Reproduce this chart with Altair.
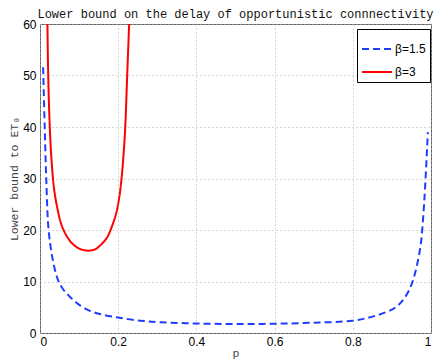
import altair as alt
import pandas as pd

# Values
blue_p = [0.008, 0.012, 0.016, 0.022, 0.033, 0.046, 0.059, 0.077, 0.098, 0.125,
          0.153, 0.2, 0.256, 0.307, 0.4, 0.5, 0.6, 0.7, 0.8, 0.86,
          0.908, 0.934, 0.951, 0.963, 0.974, 0.98, 0.985, 0.992]
blue_v = [51.6, 40, 30, 20, 14.1, 10.3, 8.5, 7.0, 5.6, 4.4,
          3.7, 3.0, 2.4, 2.1, 1.85, 1.75, 1.8, 2.0, 2.4, 3.4,
          4.9, 7.0, 9.6, 12.8, 17.3, 22.5, 28.5, 39]

red_p = [0.019, 0.021, 0.025, 0.03, 0.036, 0.045, 0.055, 0.07, 0.085, 0.1,
         0.115, 0.128, 0.142, 0.158, 0.172, 0.183, 0.195, 0.203, 0.209, 0.214,
         0.218, 0.223, 0.228]
red_v = [60, 50, 40, 33, 28, 24, 21, 18.6, 17.2, 16.4,
         16.05, 16.0, 16.3, 17.3, 18.6, 20.5, 23.3, 26.5, 30.3, 35,
         40, 50, 60]

series_names = ["β=1.5", "β=3"]
x_ticks = [0, 0.2, 0.4, 0.6, 0.8, 1]
y_ticks = [0, 10, 20, 30, 40, 50, 60]

rows = []
for p, v in zip(blue_p, blue_v):
    rows.append({"p": p, "v": v, "beta": series_names[0]})
for p, v in zip(red_p, red_v):
    rows.append({"p": p, "v": v, "beta": series_names[1]})
df = pd.DataFrame(rows)

mono = "Liberation Mono"
sans = "Liberation Sans"

lines = alt.Chart(df).mark_line(strokeWidth=2, clip=True, interpolate="catmull-rom").encode(
    x=alt.X("p:Q", scale=alt.Scale(domain=[0, 1], nice=False),
            axis=alt.Axis(values=x_ticks, title="p", format="~g",
                          grid=True, gridDash=[1, 3], gridColor="#aaaaaa",
                          ticks=False, domain=False, labelPadding=3,
                          labelFont=sans, labelFontSize=12, labelColor="#000",
                          titleFont=mono, titleFontSize=11.5, titleFontWeight="normal",
                          titleColor="#444", titlePadding=0)),
    y=alt.Y("v:Q", scale=alt.Scale(domain=[0, 60], nice=False),
            axis=alt.Axis(values=y_ticks, title="Lower bound to ET₀",
                          grid=True, gridDash=[1, 3], gridColor="#aaaaaa",
                          ticks=False, domain=False, labelPadding=4,
                          labelFont=sans, labelFontSize=12, labelColor="#000",
                          titleFont=mono, titleFontSize=11.5, titleFontWeight="normal",
                          titleColor="#444", titlePadding=3)),
    color=alt.Color("beta:N", scale=alt.Scale(domain=series_names, range=["#1f3dff", "#ff0000"]),
                    legend=alt.Legend(title=None, orient="none", legendX=317, legendY=5,
                                      symbolType="stroke", symbolSize=900, symbolStrokeWidth=2,
                                      labelFont=sans, labelFontSize=12, labelColor="#000",
                                      strokeColor="#000", fillColor="#fff",
                                      padding=4, rowPadding=1, labelOffset=2)),
    strokeDash=alt.StrokeDash("beta:N", scale=alt.Scale(domain=series_names, range=[[7, 4], [1, 0]]),
                              legend=None),
)

chart = lines.properties(
    width=391,
    height=309,
    title=alt.TitleParams("Lower bound on the delay of opportunistic connnectivity",
                          font=mono, fontSize=12, fontWeight="normal", color="#111",
                          anchor="middle", offset=4, dy=7),
    autosize=alt.AutoSizeParams(type="none"),
    padding={"left": 32, "top": 16, "right": 4, "bottom": 34},
).configure_view(stroke="#666", strokeWidth=1)

chart.save("out.html", embed_options={"renderer": "svg", "actions": False})
